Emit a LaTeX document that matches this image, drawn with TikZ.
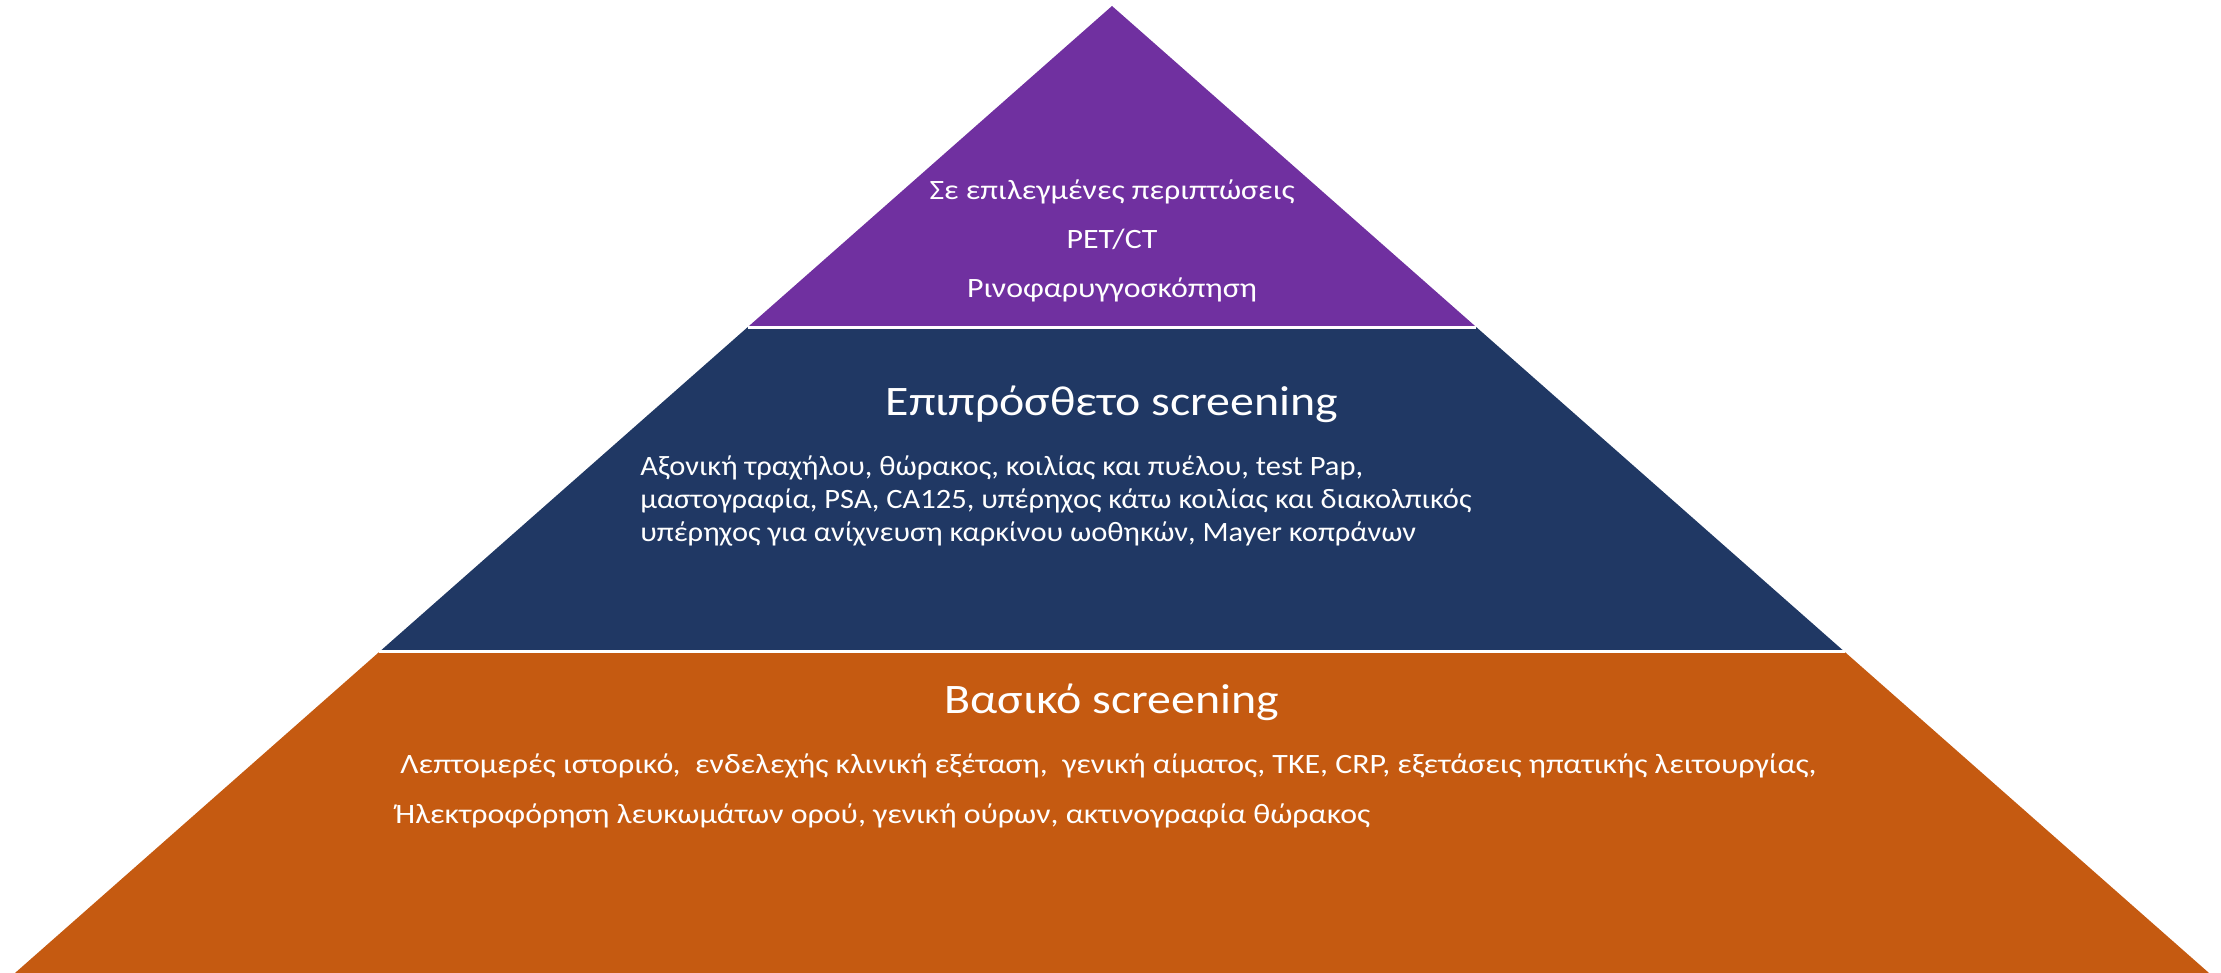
\documentclass[tikz,border=0pt]{standalone}
\usepackage{fontspec}
\setmainfont{Carlito}
\newfontfamily\widegreek[FakeStretch=1.14]{Carlito}
\newfontfamily\midgreek[FakeStretch=1.09]{Carlito}
\usetikzlibrary{calc}
\definecolor{toppurple}{HTML}{7030A0}
\definecolor{midnavy}{HTML}{203864}
\definecolor{baseorange}{HTML}{C55A11}
\tikzset{
  layertitle/.style={text=white, inner sep=0pt, font=\widegreek\fontsize{21}{25}\selectfont},
  layertext/.style={text=white, inner sep=0pt, font=\widegreek\fontsize{14}{17}\selectfont},
  midtext/.style={layertext, font=\midgreek\fontsize{14}{17}\selectfont},
}
\begin{document}
\begin{tikzpicture}[x=0.5pt,y=-0.5pt]
  \useasboundingbox (0,0) rectangle (2221,973);

  % Corners of the pyramid
  \coordinate (apex) at (1112,6);
  \coordinate (bl) at (15,973);
  \coordinate (br) at (2209,973);
  \coordinate (l1) at ($(apex)!0.332!(bl)$);
  \coordinate (r1) at ($(apex)!0.332!(br)$);
  \coordinate (l2) at ($(apex)!0.668!(bl)$);
  \coordinate (r2) at ($(apex)!0.668!(br)$);

  % Draw the three layers
  \fill[toppurple] (apex) -- (r1) -- (l1) -- cycle;
  \fill[midnavy] (l1) -- (r1) -- (r2) -- (l2) -- cycle;
  \fill[baseorange] (l2) -- (r2) -- (br) -- (bl) -- cycle;

  % White gaps between the layers
  \draw[white, line width=1.5pt] (l1) -- (r1);
  \draw[white, line width=1.5pt] (l2) -- (r2);

  % Top layer
  \node[layertext, anchor=base] (selected) at (1112,200) {Σε επιλεγμένες περιπτώσεις};
  \node[layertext, anchor=base] (petct) at (1112,249) {PET/CT};
  \node[layertext, anchor=base] (rhino) at (1112,298) {Ρινοφαρυγγοσκόπηση};

  % Middle layer
  \node[layertitle, anchor=base] (extra) at (1112,415) {Επιπρόσθετο screening};
  \node[midtext, anchor=base west] (extraa) at (640,475) {Αξονική τραχήλου, θώρακος, κοιλίας και πυέλου, test Pap,};
  \node[midtext, anchor=base west] (extrab) at (640,508) {μαστογραφία, PSA, CA125, υπέρηχος κάτω κοιλίας και διακολπικός};
  \node[midtext, anchor=base west] (extrac) at (640,541) {υπέρηχος για ανίχνευση καρκίνου ωοθηκών, Mayer κοπράνων};

  % Bottom layer
  \node[layertitle, anchor=base] (basic) at (1112,713) {Βασικό screening};
  \node[layertext, anchor=base west] (basica) at (400,773) {Λεπτομερές ιστορικό,~ ενδελεχής κλινική εξέταση,~ γενική αίματος, ΤΚΕ, CRP, εξετάσεις ηπατικής λειτουργίας,};
  \node[layertext, anchor=base west] (basicb) at (395,823) {Ήλεκτροφόρηση λευκωμάτων ορού, γενική ούρων, ακτινογραφία θώρακος};
\end{tikzpicture}
\end{document}
